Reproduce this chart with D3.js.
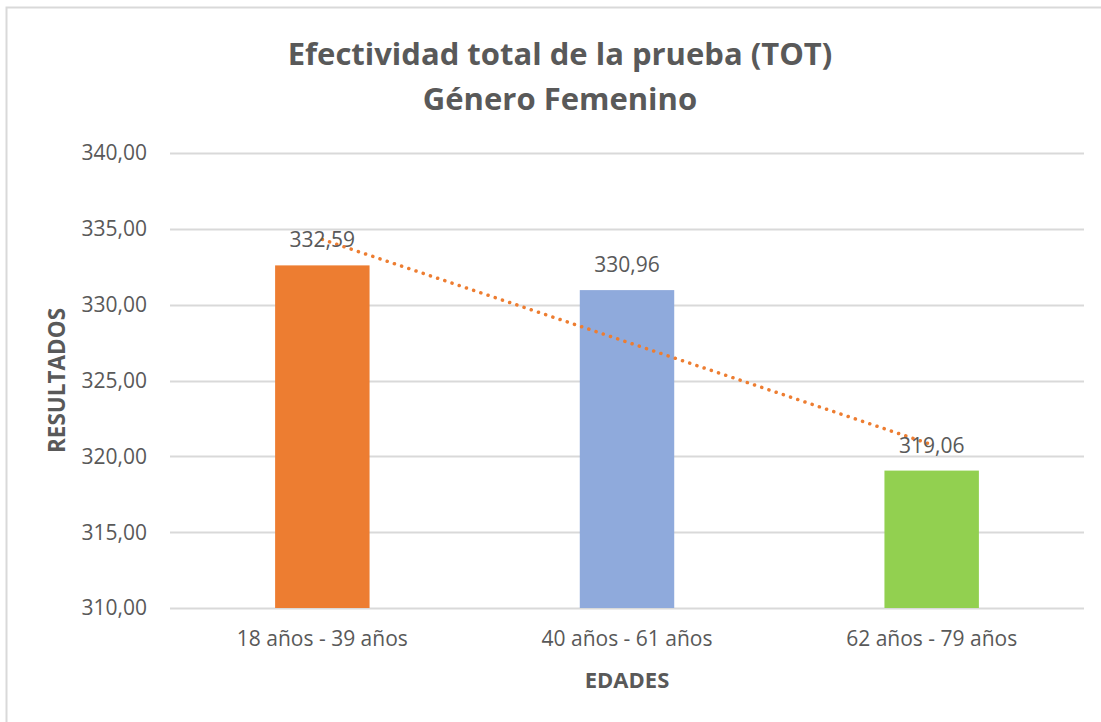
<!DOCTYPE html>
<html>
<head>
<meta charset="utf-8">
<script src="https://cdn.jsdelivr.net/npm/d3@7"></script>
<style>
  body { margin: 0; background: #fff; }
  text { font-family: "Open Sans", sans-serif; fill: #595959; }
</style>
</head>
<body>
<div id="main"></div>
<script>
var categories = ['18 años - 39 años', '40 años - 61 años', '62 años - 79 años'];
var values = [332.59, 330.96, 319.06];
var bar_colors = ['#ED7D31', '#8FAADC', '#92D050'];
var y_ticks = [310, 315, 320, 325, 330, 335, 340];
var title_lines = ['Efectividad total de la prueba (TOT)', 'Género Femenino'];

function fmt(v) {
  return v.toFixed(2).replace('.', ',');
}

function create_chart() {

  var width = 1101;
  var height = 722;
  var left = 170, right = 1084, top = 153, bottom = 608;

  var svg = d3.select('#main').append('svg')
    .attr('width', width)
    .attr('height', height);

  // chart frame (only top and left edges visible in the picture)
  svg.append('rect')
    .attr('x', 6.5).attr('y', 7.5)
    .attr('width', width + 20).attr('height', height + 20)
    .attr('fill', 'none')
    .attr('stroke', '#D9D9D9')
    .attr('stroke-width', 2);

  var xScale = d3.scaleBand()
    .domain(categories)
    .range([left, right])
    .paddingInner(0.69)
    .paddingOuter(0.345);

  var yScale = d3.scaleLinear()
    .domain([310, 340])
    .range([bottom, top]);

  // grid lines
  svg.selectAll('.grid')
    .data(y_ticks)
    .enter()
    .append('line')
    .attr('class', 'grid')
    .attr('x1', left)
    .attr('x2', right)
    .attr('y1', function (d) { return Math.round(yScale(d)) + 0.5; })
    .attr('y2', function (d) { return Math.round(yScale(d)) + 0.5; })
    .attr('stroke', '#D9D9D9')
    .attr('stroke-width', 2);

  // y tick labels
  svg.selectAll('.ytick')
    .data(y_ticks)
    .enter()
    .append('text')
    .attr('class', 'ytick')
    .attr('x', 147)
    .attr('y', function (d) { return yScale(d); })
    .attr('dy', '0.35em')
    .attr('text-anchor', 'end')
    .style('font-size', '21px')
    .text(fmt);

  // bars
  svg.selectAll('.bar')
    .data(values)
    .enter()
    .append('rect')
    .attr('class', 'bar')
    .attr('x', function (d, i) { return xScale(categories[i]); })
    .attr('width', xScale.bandwidth())
    .attr('y', function (d) { return yScale(d); })
    .attr('height', function (d) { return yScale(310) - yScale(d); })
    .attr('fill', function (d, i) { return bar_colors[i]; });

  // linear trend line (least squares over category index)
  var n = values.length;
  var xs = values.map(function (d, i) { return i + 1; });
  var mx = d3.mean(xs), my = d3.mean(values);
  var slope = d3.sum(xs, function (x, i) { return (x - mx) * (values[i] - my); }) /
    d3.sum(xs, function (x) { return (x - mx) * (x - mx); });
  var icpt = my - slope * mx;
  var trend = [
    [categories[0], icpt + slope * 1],
    [categories[n - 1], icpt + slope * n]
  ];

  svg.append('path')
    .datum(trend)
    .attr('d', d3.line()
      .x(function (d) { return xScale(d[0]) + xScale.bandwidth() / 2; })
      .y(function (d) { return yScale(d[1]); }))
    .attr('fill', 'none')
    .attr('stroke', '#ED7D31')
    .attr('stroke-width', 3.5)
    .attr('stroke-linecap', 'round')
    .attr('stroke-dasharray', '0.1 7.5');

  // value labels
  svg.selectAll('.vlabel')
    .data(values)
    .enter()
    .append('text')
    .attr('class', 'vlabel')
    .attr('x', function (d, i) { return xScale(categories[i]) + xScale.bandwidth() / 2; })
    .attr('y', function (d) { return yScale(d) - 18; })
    .attr('text-anchor', 'middle')
    .style('font-size', '21px')
    .text(fmt);

  // category labels
  svg.selectAll('.xlabel')
    .data(categories)
    .enter()
    .append('text')
    .attr('class', 'xlabel')
    .attr('x', function (d) { return xScale(d) + xScale.bandwidth() / 2; })
    .attr('y', 646)
    .attr('text-anchor', 'middle')
    .style('font-size', '21px')
    .text(function (d) { return d; });

  // axis titles
  svg.append('text')
    .attr('x', xScale(categories[1]) + xScale.bandwidth() / 2)
    .attr('y', 688)
    .attr('text-anchor', 'middle')
    .style('font-size', '22px')
    .style('font-weight', 'bold')
    .text('EDADES');

  svg.append('text')
    .attr('transform', 'translate(65,' + ((top + bottom) / 2) + ') rotate(-90)')
    .attr('text-anchor', 'middle')
    .style('font-size', '22.5px')
    .style('font-weight', 'bold')
    .text('RESULTADOS');

  // title
  svg.selectAll('.title')
    .data(title_lines)
    .enter()
    .append('text')
    .attr('class', 'title')
    .attr('x', 560)
    .attr('y', function (d, i) { return 65 + i * 45; })
    .attr('text-anchor', 'middle')
    .style('font-size', '31px')
    .style('font-weight', 'bold')
    .text(function (d) { return d; });
}

create_chart();
</script>
</body>
</html>
